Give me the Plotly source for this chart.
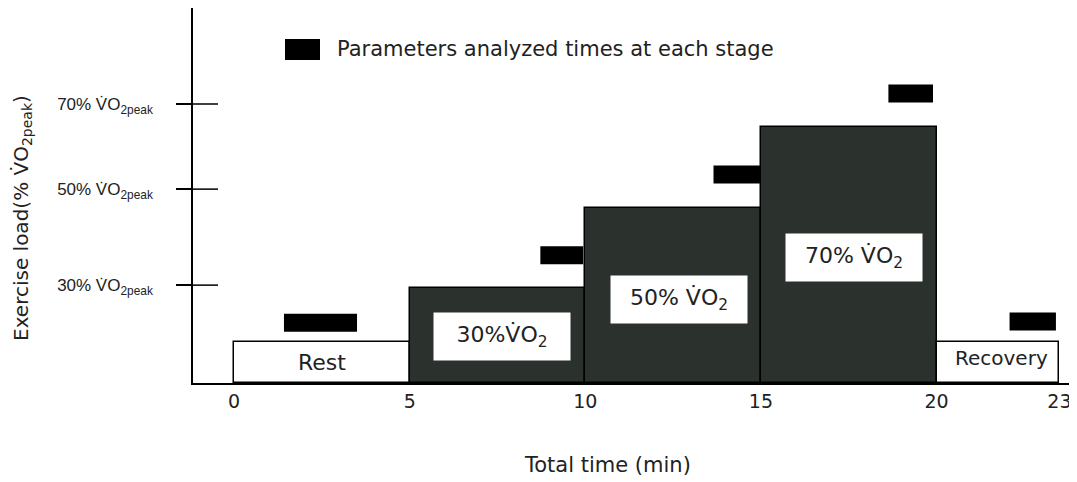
import plotly.graph_objects as go

# ---- data ----
stage_names = ["Rest", "30%V̇O<sub>2</sub>", "50% V̇O<sub>2</sub>", "70% V̇O<sub>2</sub>", "Recovery"]
stage_start = [0, 5, 10, 15, 20]
stage_end = [5, 10, 15, 20, 23.5]
stage_load = [10.9, 25.3, 46.7, 68.3, 10.9]
stage_dark = [False, True, True, True, False]

# label anchor positions (data units)
label_x = [2.5, 7.64, 12.68, 17.66, 21.85]
label_y = [5.6, 12.4, 22.4, 33.5, 6.7]

# black marks: times at which parameters were analyzed
mark_start = [1.42, 8.72, 13.65, 18.63, 22.08]
mark_end = [3.50, 9.94, 15.0, 19.9, 23.4]
mark_level = [16.1, 34.1, 55.6, 77.2, 16.4]

x_tick_vals = [0, 5, 10, 15, 20, 23.5]
x_tick_text = ["0", "5", "10", "15", "20", "23"]
y_tick_vals = [26.1, 51.7, 74.4]
y_tick_text = ["30% V̇O<sub>2peak</sub>", "50% V̇O<sub>2peak</sub>", "70% V̇O<sub>2peak</sub>"]

DARK = "#2b312d"
TXT = "#222222"
FONT = "DejaVu Sans, sans-serif"
FONT2 = "Liberation Sans, Arial, sans-serif"
MARK_H = 2.4  # half height of black marks

# page is offset by the browser's 8px body margin
W, H = 1069, 474
L, B = 185, 99
PW, PH = W - L, H - B


def px(xp):
    return (xp - 8 - L) / PW


def py(yp):
    return (H - B + 8 - yp) / PH


fig = go.Figure()

widths = [e - s for s, e in zip(stage_start, stage_end)]
mids = [(s + e) / 2 for s, e in zip(stage_start, stage_end)]
fig.add_trace(go.Bar(
    x=mids, y=stage_load, width=widths,
    marker=dict(color=[DARK if d else "white" for d in stage_dark],
                line=dict(color="black", width=1.5)),
    hoverinfo="skip", showlegend=False,
))

for s, e, lv in zip(mark_start, mark_end, mark_level):
    fig.add_shape(type="rect", xref="x", yref="y", x0=s, x1=e,
                  y0=lv - MARK_H, y1=lv + MARK_H,
                  fillcolor="black", line=dict(width=0), layer="above")

# stage labels
for name, lx, ly, d in zip(stage_names, label_x, label_y, stage_dark):
    if d:
        fig.add_annotation(x=lx, y=ly, xref="x", yref="y", text=name, showarrow=False,
                           bgcolor="white", width=136, height=47, borderpad=0,
                           font=dict(family=FONT, size=22, color=TXT))
    else:
        fig.add_annotation(x=lx, y=ly, xref="x", yref="y", text=name, showarrow=False,
                           font=dict(family=FONT, size=22 if name == "Rest" else 20, color=TXT))

# inner parts of crossing y ticks
for tv in y_tick_vals:
    fig.add_shape(type="line", xref="x domain", yref="y", x0=0, x1=25 / PW, y0=tv, y1=tv,
                  line=dict(color="black", width=1.5))

# legend
fig.add_shape(type="rect", xref="paper", yref="paper",
              x0=px(285), x1=px(320), y0=py(60), y1=py(39),
              fillcolor="black", line=dict(width=0))
fig.add_annotation(xref="paper", yref="paper", x=px(335), y=py(49),
                   xanchor="left", yanchor="middle", showarrow=False,
                   text="Parameters analyzed times at each stage",
                   font=dict(family=FONT, size=21, color=TXT))

# axis titles
fig.add_annotation(xref="paper", yref="paper", x=px(607), y=py(465),
                   xanchor="center", yanchor="middle", showarrow=False,
                   text="Total time (min)", font=dict(family=FONT, size=21, color=TXT))
fig.add_annotation(xref="paper", yref="paper", x=px(22), y=py(218),
                   xanchor="center", yanchor="middle", showarrow=False, textangle=-90,
                   text="Exercise load(% V̇O<sub>2peak</sub>)",
                   font=dict(family=FONT, size=20, color=TXT))

fig.update_layout(
    width=W, height=H,
    margin=dict(l=L, r=0, t=0, b=B),
    plot_bgcolor="white", paper_bgcolor="white",
    bargap=0,
    xaxis=dict(range=[-1.17, 24.0], showline=True, linecolor="black", linewidth=1.5,
               showgrid=False, zeroline=False, ticks="",
               tickvals=x_tick_vals, ticktext=x_tick_text, ticklabelstandoff=0,
               tickfont=dict(family=FONT, size=19, color=TXT)),
    yaxis=dict(range=[0, 100], showline=True, linecolor="black", linewidth=1.5,
               showgrid=False, zeroline=False, ticks="outside", ticklen=15,
               tickwidth=1.5, tickcolor="black",
               tickvals=y_tick_vals, ticktext=y_tick_text, ticklabelstandoff=20,
               tickfont=dict(family=FONT2, size=17, color=TXT)),
)

fig.write_html("out.html")
